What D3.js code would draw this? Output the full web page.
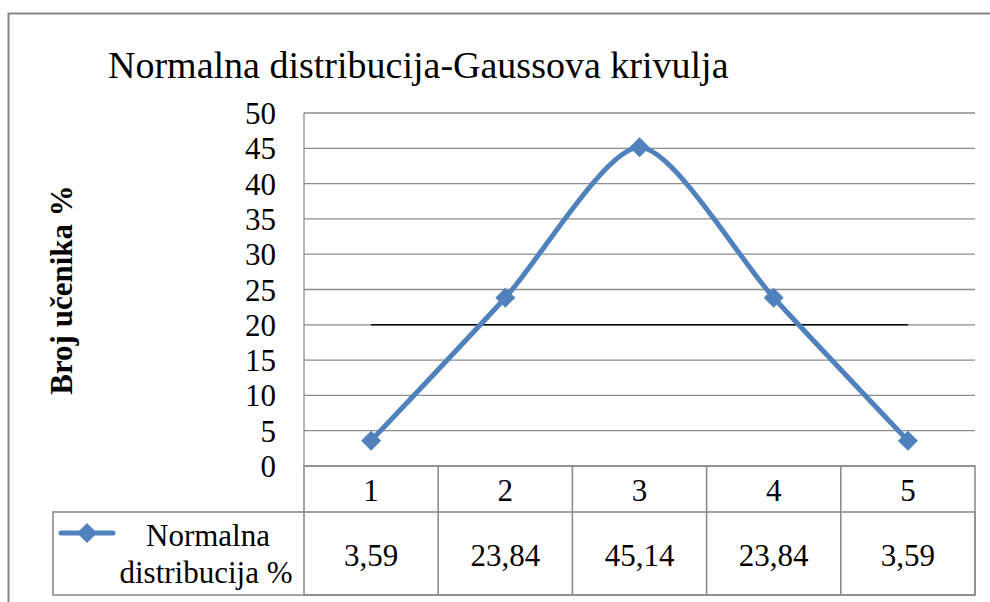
<!DOCTYPE html>
<html>
<head>
<meta charset="utf-8">
<script src="https://cdn.jsdelivr.net/npm/d3@7"></script>
<style>
  body { margin: 0; background: #fff; }
  svg { display: block; font-family: "Liberation Serif", "Times New Roman", serif; }
</style>
</head>
<body>
<div id="chart"></div>
<script>
// chart data
const categories = ["1", "2", "3", "4", "5"];
const seriesName = ["Normalna", "distribucija %"];
const values = [3.59, 23.84, 45.14, 23.84, 3.59];
const valueLabels = ["3,59", "23,84", "45,14", "23,84", "3,59"];
const refLine = [20, 20, 20, 20, 20];
const yTicks = [0, 5, 10, 15, 20, 25, 30, 35, 40, 45, 50];

const width = 990, height = 602;
const plot = { left: 304, right: 975, top: 113, bottom: 466 };
const catRowBottom = 512, dataRowBottom = 595, legendLeft = 53;
const serif = "'Liberation Serif', 'Times New Roman', serif";

const svg = d3.select("#chart").append("svg")
    .attr("width", width)
    .attr("height", height)
    .attr("font-family", serif);

// outer chart border (runs off the right and bottom)
svg.append("path")
    .attr("d", `M8.5,${height + 5}V13.5H${width + 5}`)
    .attr("fill", "none")
    .attr("stroke", "#868686")
    .attr("stroke-width", 2);

svg.append("text")
    .attr("x", 108)
    .attr("y", 78)
    .style("font-size", "38px")
    .text("Normalna distribucija-Gaussova krivulja");

const x = d3.scaleBand().domain(categories).range([plot.left, plot.right]);
const y = d3.scaleLinear().domain([0, 50]).range([plot.bottom, plot.top]);
const cx = (d, i) => x(categories[i]) + x.bandwidth() / 2;

// gridlines
svg.append("g")
    .selectAll("line")
    .data(yTicks)
    .enter()
    .append("line")
    .attr("x1", plot.left)
    .attr("x2", plot.right)
    .attr("y1", d => y(d))
    .attr("y2", d => y(d))
    .style("stroke", "#8c8c8c")
    .style("stroke-width", 1.3);

// y axis line
svg.append("line")
    .attr("x1", plot.left).attr("x2", plot.left)
    .attr("y1", plot.top).attr("y2", plot.bottom)
    .style("stroke", "#8c8c8c")
    .style("stroke-width", 1.3);

// y tick labels
const yAxis = svg.append("g")
    .attr("transform", `translate(${plot.left},0)`)
    .call(d3.axisLeft(y).tickValues(yTicks).tickSize(0).tickPadding(28));
yAxis.select(".domain").remove();
yAxis.attr("font-family", serif).attr("font-size", 31);
yAxis.selectAll("text")
    .attr("dy", "0.34em")
    .attr("fill", "#000");

// y axis title
svg.append("text")
    .attr("transform", "translate(72,290) rotate(-90)")
    .attr("text-anchor", "middle")
    .style("font-size", "31px")
    .style("font-weight", "bold")
    .text("Broj učenika %");

// data table grid
const grid = svg.append("g")
    .style("stroke", "#8c8c8c")
    .style("stroke-width", 1.6)
    .style("fill", "none");
grid.append("rect")
    .attr("x", plot.left).attr("y", plot.bottom)
    .attr("width", plot.right - plot.left)
    .attr("height", dataRowBottom - plot.bottom);
grid.append("rect")
    .attr("x", legendLeft).attr("y", catRowBottom)
    .attr("width", plot.right - legendLeft)
    .attr("height", dataRowBottom - catRowBottom);
grid.selectAll("line.col")
    .data(categories.slice(1))
    .enter()
    .append("line")
    .attr("x1", d => x(d)).attr("x2", d => x(d))
    .attr("y1", plot.bottom).attr("y2", dataRowBottom);

// category labels
svg.append("g")
    .selectAll("text")
    .data(categories)
    .enter()
    .append("text")
    .attr("x", cx)
    .attr("y", 501)
    .attr("text-anchor", "middle")
    .style("font-size", "31px")
    .text(d => d);

// value labels
svg.append("g")
    .selectAll("text")
    .data(valueLabels)
    .enter()
    .append("text")
    .attr("x", cx)
    .attr("y", 566)
    .attr("text-anchor", "middle")
    .style("font-size", "31px")
    .text(d => d);

// legend key + name
const lineColor = "#4f81bd";
const marker = d3.symbol(d3.symbolSquare, 200)();
svg.append("line")
    .attr("x1", 61).attr("x2", 113)
    .attr("y1", 533).attr("y2", 533)
    .style("stroke", lineColor)
    .style("stroke-width", 5)
    .style("stroke-linecap", "round");
svg.append("path")
    .attr("d", marker)
    .attr("transform", "translate(87,533) rotate(45)")
    .attr("fill", lineColor);
svg.append("g")
    .selectAll("text")
    .data(seriesName)
    .enter()
    .append("text")
    .attr("x", (d, i) => i === 0 ? 208 : 206)
    .attr("y", (d, i) => i === 0 ? 546 : 583)
    .attr("text-anchor", "middle")
    .style("font-size", "31px")
    .text(d => d);

// black reference line at 20
svg.append("path")
    .datum(refLine)
    .attr("d", d3.line().x(cx).y(d => y(d)))
    .attr("fill", "none")
    .style("stroke", "#000")
    .style("stroke-width", 1.5);

// smoothed series line
svg.append("path")
    .datum(values)
    .attr("d", d3.line()
        .curve(d3.curveCardinal.tension(0.25))
        .x(cx)
        .y(d => y(d)))
    .attr("fill", "none")
    .style("stroke", lineColor)
    .style("stroke-width", 5)
    .style("stroke-linecap", "round");

// diamond markers
svg.append("g")
    .selectAll("path")
    .data(values)
    .enter()
    .append("path")
    .attr("d", marker)
    .attr("transform", (d, i) => `translate(${cx(d, i)},${y(d)}) rotate(45)`)
    .attr("fill", lineColor);
</script>
</body>
</html>
